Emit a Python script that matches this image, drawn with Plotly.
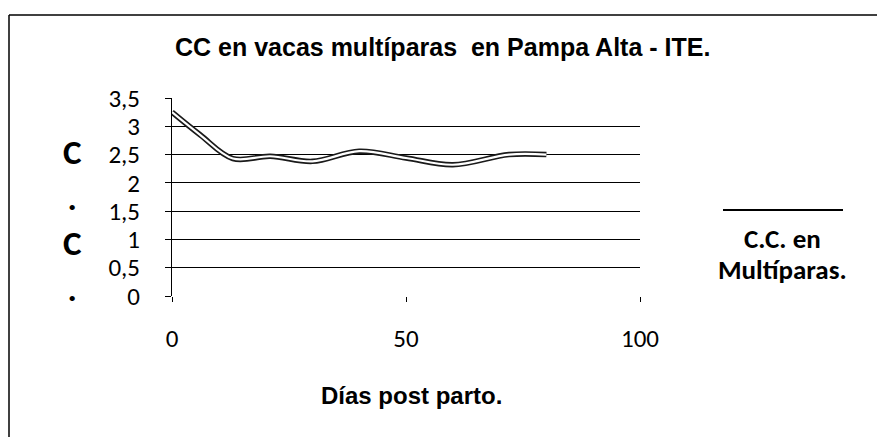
import plotly.graph_objects as go

# Data
dias = [0, 6, 13, 21, 30, 40, 50, 60, 72, 80]
cc = [3.25, 2.85, 2.43, 2.47, 2.38, 2.56, 2.44, 2.32, 2.5, 2.5]
y_ticks = [0, 0.5, 1, 1.5, 2, 2.5, 3, 3.5]
x_ticks = [0, 50, 100]

title_font = "Liberation Sans, Arial, sans-serif"
body_font = "Carlito, Lato, Open Sans, sans-serif"

fig = go.Figure()
fig.add_trace(go.Scatter(x=dias, y=cc, mode="lines",
                         line=dict(color="#1a1a1a", width=5.5, shape="spline", smoothing=1.0),
                         showlegend=False, hoverinfo="skip"))
fig.add_trace(go.Scatter(x=dias, y=cc, mode="lines", name="C.C. en Multíparas.",
                         line=dict(color="white", width=2.2, shape="spline", smoothing=1.0),
                         showlegend=False))

OFF = 8  # page body margin
W, H = 885 - OFF, 437 - OFF
# plot area in reference (page) pixels
PX0, PX1, PY0, PY1 = 172, 640, 98, 296
L = PX0 - OFF
T = PY0 - OFF
R = W - (PX1 - OFF)
B = H - (PY1 - OFF)
pw = PX1 - PX0
ph = PY1 - PY0

def px(xp):
    return (xp - PX0) / pw

def py(yp):
    return (PY1 - yp) / ph

shapes = [
    dict(type="line", xref="paper", yref="paper", x0=px(9), x1=px(890), y0=py(15), y1=py(15),
         line=dict(color="black", width=1.5)),
    dict(type="line", xref="paper", yref="paper", x0=px(9), x1=px(9), y0=py(15), y1=py(445),
         line=dict(color="black", width=1.5)),
    dict(type="line", xref="paper", yref="paper", x0=px(723), x1=px(843), y0=py(210), y1=py(210),
         line=dict(color="black", width=2)),
]

annotations = [
    dict(text="<b>C.C. en</b>", xref="paper", yref="paper", x=px(782), y=py(238),
         showarrow=False, font=dict(family=body_font, size=27, color="black"),
         xanchor="center", yanchor="middle"),
    dict(text="<b>Multíparas.</b>", xref="paper", yref="paper", x=px(782), y=py(269),
         showarrow=False, font=dict(family=body_font, size=27, color="black"),
         xanchor="center", yanchor="middle"),
    dict(text="<b>C<br>.<br>C<br>.</b>", xref="paper", yref="paper", x=px(72), y=py(220),
         showarrow=False, font=dict(family=body_font, size=35, color="black"),
         xanchor="center", yanchor="middle", align="center"),
    dict(text="<b>Días post parto.</b>", xref="paper", yref="paper", x=px(411), y=py(395),
         showarrow=False, font=dict(family=title_font, size=24, color="black"),
         xanchor="center", yanchor="middle"),
    dict(text="<b>CC en vacas multíparas  en Pampa Alta - ITE.</b>", xref="paper", yref="paper",
         x=px(442), y=py(47), showarrow=False,
         font=dict(family=title_font, size=25, color="black"),
         xanchor="center", yanchor="middle"),
]

fig.update_layout(
    width=W, height=H,
    margin=dict(l=L, r=R, t=T, b=B),
    paper_bgcolor="white", plot_bgcolor="white",
    separators=",.",
    shapes=shapes, annotations=annotations,
    showlegend=False,
    xaxis=dict(range=[0, 100], tickvals=x_ticks, showgrid=False, zeroline=False,
               showline=False, ticks="outside", ticklen=5, tickcolor="black",
               ticklabelstandoff=15,
               tickfont=dict(family=body_font, size=25, color="black")),
    yaxis=dict(range=[0, 3.5], tickvals=y_ticks, showgrid=True, gridcolor="black", gridwidth=1,
               zeroline=False, showline=True, linecolor="black", linewidth=1,
               ticks="outside", ticklen=6, tickcolor="black",
               ticklabelstandoff=20,
               tickfont=dict(family=body_font, size=25, color="black")),
)

fig.write_html("out.html")
